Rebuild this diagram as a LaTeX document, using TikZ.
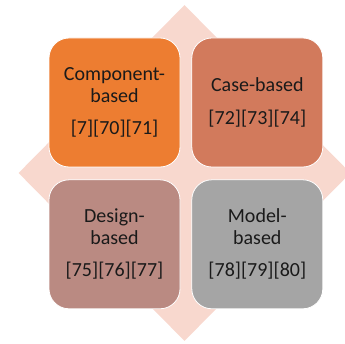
\documentclass[tikz,border=0pt]{standalone}
\usepackage{fontspec}
\setmainfont{Carlito}
\usepackage{xcolor}
\definecolor{Orange}{HTML}{ED7D31}
\definecolor{Rust}{HTML}{D27A5C}
\definecolor{Rose}{HTML}{BA8A82}
\definecolor{Grey}{HTML}{A5A5A5}
\definecolor{Blush}{HTML}{F8D8CE}
\definecolor{Ink}{HTML}{1A1A1A}
\usepackage{tikz}
\usetikzlibrary{positioning,shapes.geometric}

\begin{document}
\begin{tikzpicture}[x=1pt,y=1pt,node distance=11pt,
  every node/.style={align=center,text=Ink},
  tile/.style={draw=white,line width=0.8pt,rounded corners=20pt,minimum width=131pt,minimum height=129pt,inner sep=0pt,text width=125pt,font=\fontsize{20}{21.5}\selectfont}]
\useasboundingbox (0,0) rectangle (345,343);
\clip (0,0) rectangle (345,343);
\node[diamond,fill=Blush,minimum width=332pt,minimum height=336pt,inner sep=0pt] (back) at (184.5,170) {};
\node[tile,fill=Orange] (comp) at (114.5,240.5) {Component-\\based\\[11pt][7][70][71]};
\node[tile,fill=Rust,right=of comp] (case) {Case-based\\[11pt][72][73][74]};
\node[tile,fill=Rose,below=12pt of comp] (design) {Design-\\based\\[11pt][75][76][77]};
\node[tile,fill=Grey,right=of design] (model) {Model-\\based\\[11pt][78][79][80]};
\end{tikzpicture}
\end{document}
